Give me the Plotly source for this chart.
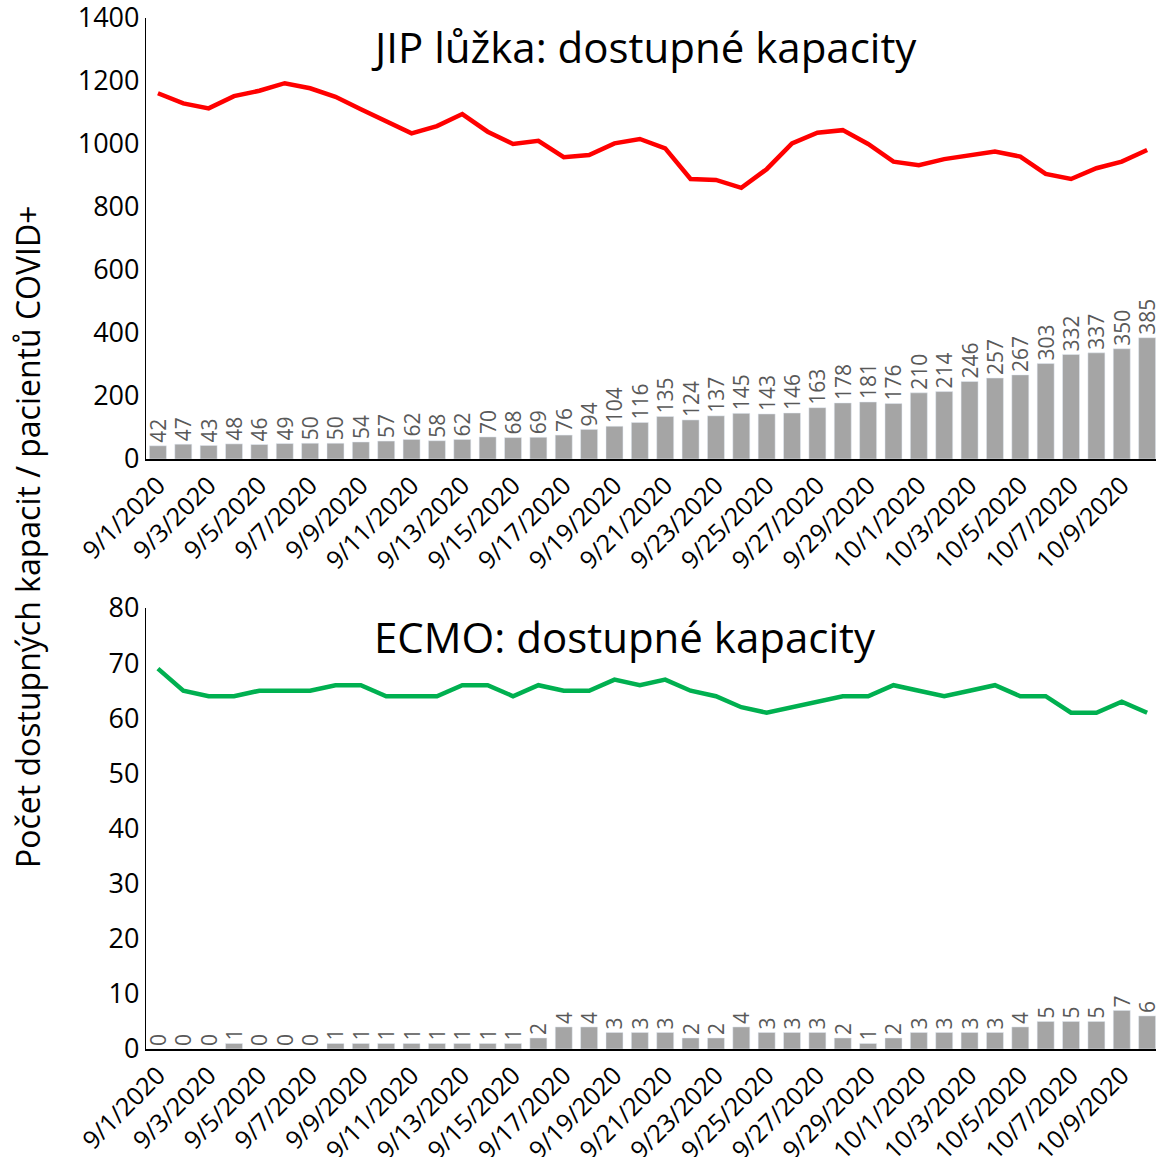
import plotly.graph_objects as go

W, H = 1156, 1157

dates = ["9/1/2020", "9/2/2020", "9/3/2020", "9/4/2020", "9/5/2020", "9/6/2020", "9/7/2020", "9/8/2020",
         "9/9/2020", "9/10/2020", "9/11/2020", "9/12/2020", "9/13/2020", "9/14/2020", "9/15/2020", "9/16/2020",
         "9/17/2020", "9/18/2020", "9/19/2020", "9/20/2020", "9/21/2020", "9/22/2020", "9/23/2020", "9/24/2020",
         "9/25/2020", "9/26/2020", "9/27/2020", "9/28/2020", "9/29/2020", "9/30/2020", "10/1/2020", "10/2/2020",
         "10/3/2020", "10/4/2020", "10/5/2020", "10/6/2020", "10/7/2020", "10/8/2020", "10/9/2020", "10/10/2020"]

# JIP - pacienti COVID+ (sloupce) a dostupne kapacity (cara)
jip_patients = [42, 47, 43, 48, 46, 49, 50, 50, 54, 57, 62, 58, 62, 70, 68, 69, 76, 94, 104, 116,
                135, 124, 137, 145, 143, 146, 163, 178, 181, 176, 210, 214, 246, 257, 267, 303, 332, 337, 350, 385]
jip_free = [1161, 1129, 1113, 1152, 1169, 1193, 1177, 1150, 1110, 1073, 1034, 1057, 1095, 1039, 1000, 1010,
            958, 965, 1002, 1016, 986, 889, 886, 861, 920, 1002, 1036, 1044, 1000, 944, 933, 952, 963, 976,
            960, 905, 889, 923, 944, 981]

# ECMO
ecmo_patients = [0, 0, 0, 1, 0, 0, 0, 1, 1, 1, 1, 1, 1, 1, 1, 2, 4, 4, 3, 3,
                 3, 2, 2, 4, 3, 3, 3, 2, 1, 2, 3, 3, 3, 3, 4, 5, 5, 5, 7, 6]
ecmo_free = [69, 65, 64, 64, 65, 65, 65, 66, 66, 64, 64, 64, 66, 66, 64, 66, 65, 65, 67, 66,
             67, 65, 64, 62, 61, 62, 63, 64, 64, 66, 65, 64, 65, 66, 64, 64, 61, 61, 63, 61]

FONT = "Open Sans"
BAR_C = "#A5A5A5"
LBL_C = "#595959"

def px_y(top, bottom):
    return [1 - bottom / H, 1 - top / H]

fig = go.Figure()

# horni graf
fig.add_trace(go.Bar(x=dates, y=jip_patients, marker_color=BAR_C, text=jip_patients,
                     textposition="outside", textangle=-90, constraintext="none", cliponaxis=False,
                     textfont=dict(size=21, color=LBL_C, family=FONT), xaxis="x", yaxis="y"))
fig.add_trace(go.Scatter(x=dates, y=jip_free, mode="lines", line=dict(color="#FF0000", width=4.5),
                         xaxis="x", yaxis="y"))
# dolni graf
fig.add_trace(go.Bar(x=dates, y=ecmo_patients, marker_color=BAR_C, text=ecmo_patients,
                     textposition="outside", textangle=-90, constraintext="none", cliponaxis=False,
                     textfont=dict(size=21, color=LBL_C, family=FONT), xaxis="x2", yaxis="y2"))
fig.add_trace(go.Scatter(x=dates, y=ecmo_free, mode="lines", line=dict(color="#00B050", width=4.5),
                         xaxis="x2", yaxis="y2"))

xdom = [146 / W, 1.0]
xcommon = dict(type="category", range=[-0.47, 39.35], tickvals=dates[::2], tickangle=-45,
               tickfont=dict(size=25, color="black", family=FONT), showline=True, linecolor="black",
               linewidth=1.5, showgrid=False, ticks="", automargin=False, domain=xdom,
               ticklabeloverflow="allow")
ycommon = dict(showline=True, linecolor="black", linewidth=1.2, showgrid=False, zeroline=False,
               ticks="", tickfont=dict(size=27, color="black", family=FONT), automargin=False,
               ticklabeloverflow="allow")

fig.update_layout(
    width=W, height=H,
    margin=dict(l=0, r=0, t=0, b=0),
    paper_bgcolor="white", plot_bgcolor="white",
    showlegend=False, bargap=0.33,
    font=dict(family=FONT, color="black"),
    xaxis=dict(anchor="y", **xcommon),
    yaxis=dict(anchor="x", range=[0, 1400], dtick=200, domain=px_y(18, 459), **ycommon),
    xaxis2=dict(anchor="y2", **xcommon),
    yaxis2=dict(anchor="x2", range=[0, 80], dtick=10, domain=px_y(608, 1049), **ycommon),
    annotations=[
        dict(text="JIP lůžka: dostupné kapacity", x=644 / W, y=1 - 47 / H, xref="paper", yref="paper",
             xanchor="center", yanchor="middle", showarrow=False,
             font=dict(size=42, color="black", family=FONT)),
        dict(text="ECMO: dostupné kapacity", x=625 / W, y=1 - 636 / H, xref="paper", yref="paper",
             xanchor="center", yanchor="middle", showarrow=False,
             font=dict(size=42, color="black", family=FONT)),
        dict(text="Počet dostupných kapacit / pacientů COVID+", x=27 / W, y=1 - 537 / H,
             xref="paper", yref="paper", xanchor="center", yanchor="middle", showarrow=False,
             textangle=-90, font=dict(size=32, color="black", family=FONT)),
    ],
)

# bez okraje stranky, aby graf sedel na 0,0
fig.write_html("out.html", config={"displayModeBar": False},
               post_script="document.body.style.margin='0';")
